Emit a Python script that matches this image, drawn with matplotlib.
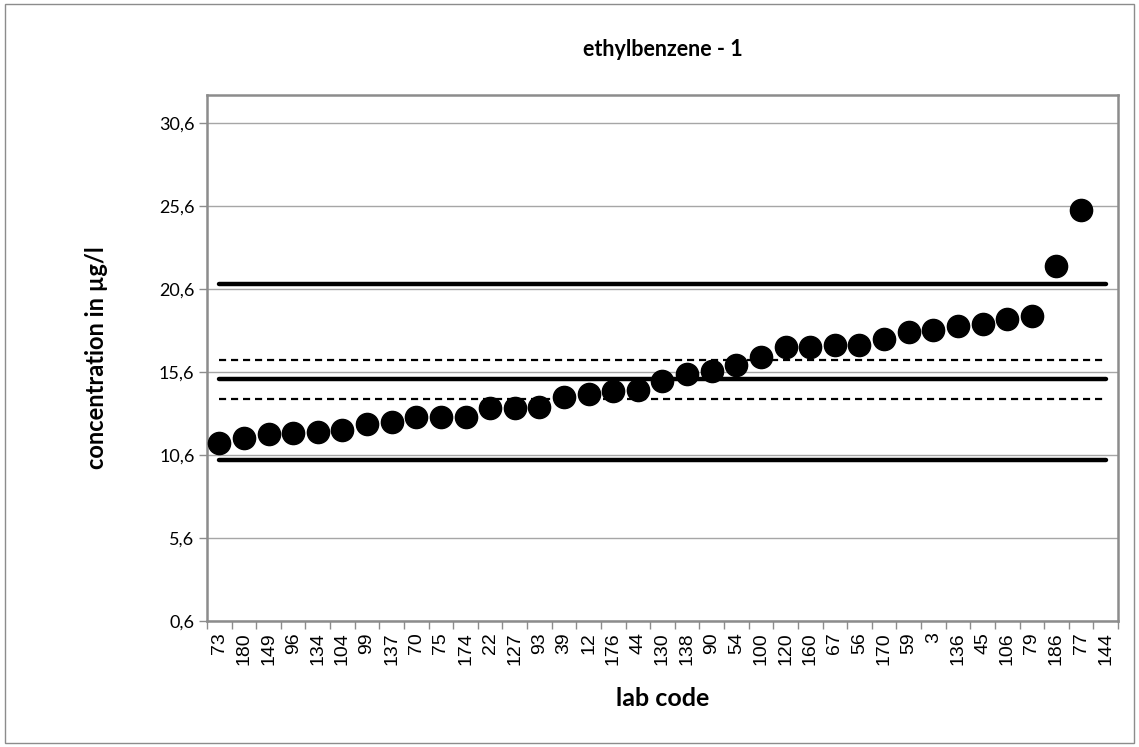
import matplotlib
matplotlib.use('Agg')
import matplotlib.pyplot as plt
from matplotlib.patches import Rectangle
from matplotlib.ticker import FixedLocator, NullFormatter

# Lab codes (x categories) and measured concentrations (µg/l)
lab_codes = ['73', '180', '149', '96', '134', '104', '99', '137', '70', '75', '174',
             '22', '127', '93', '39', '12', '176', '44', '130', '138', '90', '54',
             '100', '120', '160', '67', '56', '170', '59', '3', '136', '45', '106',
             '79', '186', '77', '144']
values = [11.34, 11.6, 11.88, 11.9, 12.0, 12.1, 12.46, 12.58, 12.92, 12.92, 12.9,
          13.42, 13.42, 13.5, 14.1, 14.3, 14.46, 14.5, 15.04, 15.5, 15.64, 16.04,
          16.52, 17.1, 17.1, 17.22, 17.22, 17.6, 18.0, 18.16, 18.4, 18.5, 18.8,
          18.96, 22.0, 25.36, None]

# reference lines
assigned_value = 15.16
upper_limit = 20.9
lower_limit = 10.32
upper_dash = 16.34
lower_dash = 13.98

yticks = [0.6, 5.6, 10.6, 15.6, 20.6, 25.6, 30.6]
ytick_labels = ['0,6', '5,6', '10,6', '15,6', '20,6', '25,6', '30,6']

fig = plt.figure(figsize=(11.39, 7.47), dpi=100)
ax = fig.add_axes([0.1817, 0.1687, 0.7999, 0.7041])

# outer chart border
fig.patches.append(Rectangle((0.004, 0.006), 0.992, 0.988, transform=fig.transFigure,
                             fill=False, edgecolor='#8c8c8c', linewidth=1.0))

n = len(lab_codes)
xs = list(range(n))

ax.grid(axis='y', color='#a6a6a6', linewidth=1.0)
ax.set_axisbelow(True)

first, last = 0, n - 1
ax.plot([first, last], [upper_limit, upper_limit], color='black', lw=3.2, solid_capstyle='round')
ax.plot([first, last], [assigned_value, assigned_value], color='black', lw=3.2, solid_capstyle='round')
ax.plot([first, last], [lower_limit, lower_limit], color='black', lw=3.2, solid_capstyle='round')
ax.plot([first, last], [upper_dash, upper_dash], color='black', lw=1.6, linestyle=(0, (3.2, 2.2)))
ax.plot([first, last], [lower_dash, lower_dash], color='black', lw=1.6, linestyle=(0, (3.2, 2.2)))

px = [x for x, v in zip(xs, values) if v is not None]
py = [v for v in values if v is not None]
ax.plot(px, py, linestyle='none', marker='o', markersize=16, color='black', zorder=5)

ax.set_xlim(-0.5, n - 0.5)
ax.set_ylim(0.6, 32.3)

ax.set_yticks(yticks)
ax.set_yticklabels(ytick_labels, fontsize=13, fontfamily='Lato')
ax.tick_params(axis='y', length=6, color='#8c8c8c', width=1, pad=3)

ax.set_xticks(xs)
ax.set_xticklabels(lab_codes, rotation=90, fontsize=14, fontfamily='Liberation Sans')
ax.tick_params(axis='x', which='major', length=0, pad=8)
ax.xaxis.set_minor_locator(FixedLocator([i - 0.5 for i in range(n + 1)]))
ax.xaxis.set_minor_formatter(NullFormatter())
ax.tick_params(axis='x', which='minor', length=6, color='#8c8c8c', width=1)

for s in ax.spines.values():
    s.set_color('#8c8c8c')
    s.set_linewidth(1.8)

ax.set_title('ethylbenzene - 1', fontsize=15.5, fontweight='bold', fontfamily='Lato', pad=28)
ax.set_xlabel('lab code', fontsize=18, fontweight='bold', fontfamily='Lato', labelpad=16)
ax.set_ylabel('concentration in µg/l', fontsize=17, fontweight='bold', fontfamily='Lato', labelpad=37)

fig.savefig('out.png', dpi=100)
